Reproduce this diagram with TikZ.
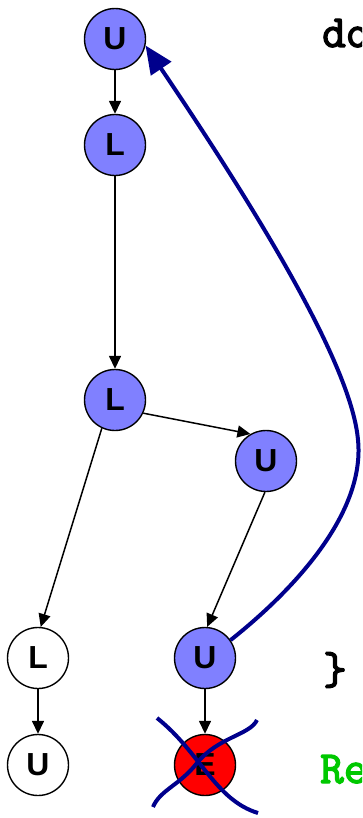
\documentclass[tikz,border=0pt]{standalone}
\usepackage{fontspec}
\setmainfont{Liberation Sans}
\newfontfamily\codefont[FakeBold=3]{Latin Modern Mono}
\usetikzlibrary{arrows.meta}
\definecolor{nodeblue}{RGB}{128,128,255}
\definecolor{navyline}{RGB}{0,0,140}
\definecolor{codegreen}{RGB}{0,200,0}
\begin{document}
\begin{tikzpicture}[x=1bp,y=-1bp,
  vert/.style={circle,draw=black,line width=1.4bp,minimum size=61bp,inner sep=0pt,
    font=\fontsize{32}{32}\selectfont\bfseries},
  bluev/.style={vert,fill=nodeblue},
  whitev/.style={vert,fill=white},
  redv/.style={vert,fill=red},
  edge/.style={-{Triangle[length=13bp,width=12bp]},line width=1.5bp,black},
  back/.style={-{Triangle[length=28bp,width=24bp]},line width=4bp,navyline},
  cross/.style={line width=4bp,navyline},
  code/.style={anchor=base west,inner sep=0pt,font=\codefont\fontsize{46}{46}\selectfont}]
\useasboundingbox (0,0) rectangle (362,818);
\clip (0,0) rectangle (362,818);
\node[bluev] (u1) at (115,39) {U};
\node[bluev] (l1) at (115,145) {L};
\node[bluev] (l2) at (115,400) {L};
\node[bluev] (u2) at (266,461) {U};
\node[bluev] (u3) at (205,658) {U};
\node[whitev] (lw) at (38,658) {L};
\node[whitev] (uw) at (38,765) {U};
\node[redv] (e) at (205,765) {E};
\draw[edge] (u1) -- (l1);
\draw[edge] (l1) -- (l2);
\draw[edge] (l2.-25) -- (u2.120);
\draw[edge] (l2.-115) -- (lw.85);
\draw[edge] (u2.-92) -- (u3.86);
\draw[edge] (lw) -- (uw);
\draw[edge] (u3) -- (e);
\coordinate (bend) at (358,440);
\draw[back] (u3.35) .. controls (300,585) and (365,510) .. (bend)
  .. controls (352,370) and (270,230) .. (u1.-12);
\draw[cross] (157,718) .. controls (200,752) and (215,800) .. (258,813);
\draw[cross] (257,720) .. controls (250,735) and (218,737) .. (197,763)
  .. controls (180,785) and (160,790) .. (153,807);
\node[code] (tdo) at (322,47) {do};
\node[code] (tbr) at (323,684) {\}};
\node[code,text=codegreen] (tre) at (320,783) {Re};
\end{tikzpicture}
\end{document}
